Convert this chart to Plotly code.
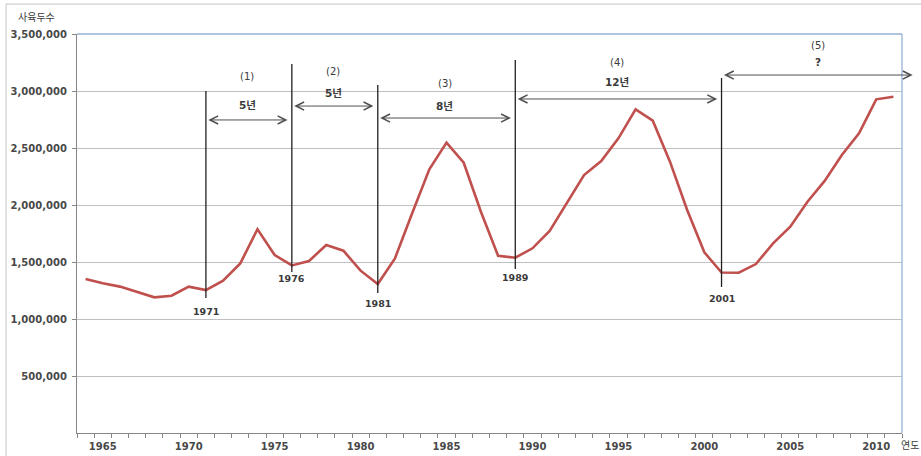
import plotly.graph_objects as go

# ---------------- data ----------------
years = list(range(1964, 2012))
heads = [1351000, 1313000, 1284000, 1239000, 1190000, 1204000, 1284000, 1254000,
         1336000, 1488000, 1787000, 1561000, 1470000, 1509000, 1649000, 1599000,
         1424000, 1307000, 1532000, 1927000, 2313000, 2547000, 2371000, 1941000,
         1555000, 1538000, 1620000, 1772000, 2015000, 2263000, 2386000, 2585000,
         2839000, 2740000, 2380000, 1956000, 1585000, 1408000, 1406000, 1482000,
         1664000, 1810000, 2029000, 2211000, 2439000, 2629000, 2927000, 2950000]

cycle_start = [1971, 1976, 1981, 1989, 2001]
cycle_names = ["(1)", "(2)", "(3)", "(4)", "(5)"]
cycle_lengths = ["5년", "5년", "8년", "12년", "?"]

y_tick_vals = [500000, 1000000, 1500000, 2000000, 2500000, 3000000, 3500000]
y_tick_text = ["500,000", "1,000,000", "1,500,000", "2,000,000", "2,500,000", "3,000,000", "3,500,000"]
x_tick_vals = [1965, 1970, 1975, 1980, 1985, 1990, 1995, 2000, 2005, 2010]
x_tick_text = [str(v) for v in x_tick_vals]

# ---------------- layout helpers (positions, not data) ----------------
marker_top = [3000000, 3237000, 3053000, 3272000, 3114000]
marker_bottom = [1184000, 1412000, 1228000, 1439000, 1281000]
marker_label_y = [1065000, 1351000, 1140000, 1360000, 1180000]
arrow_y = [2746000, 2868000, 2763000, 2930000, 3140000]
name_y = [3123000, 3175000, 3070000, 3254000, 3395000]
len_y = [2877000, 2982000, 2868000, 3079000, 3254000]

X_RANGE = [1963.5, 2011.5]
txt = "#3a3a3a"
tick_txt = "#484848"
font_main = "DejaVu Sans, Noto Sans CJK KR"

fig = go.Figure()
fig.add_trace(go.Scatter(x=years, y=heads, mode="lines",
                         line=dict(color="#C0504D", width=2.6),
                         hoverinfo="x+y", showlegend=False))

shapes = []
annotations = []

for i, yr in enumerate(cycle_start):
    shapes.append(dict(type="line", xref="x", yref="y", x0=yr, x1=yr,
                       y0=marker_bottom[i], y1=marker_top[i],
                       line=dict(color="#202020", width=1.3)))
    annotations.append(dict(x=yr, y=marker_label_y[i], xref="x", yref="y",
                            text=str(yr), showarrow=False,
                            font=dict(family=font_main, size=9.5, color=txt, weight="bold")))
    x0 = yr + 0.05
    x1 = (cycle_start[i + 1] - 0.25) if i + 1 < len(cycle_start) else X_RANGE[1] + 0.62
    annotations.append(dict(x=x1, y=arrow_y[i], ax=x0, ay=arrow_y[i],
                            xref="x", yref="y", axref="x", ayref="y",
                            text="", showarrow=True, arrowside="end+start",
                            arrowhead=5, startarrowhead=5,
                            arrowsize=1.6, startarrowsize=1.6,
                            arrowwidth=1.0, arrowcolor="#505050",
                            standoff=0, startstandoff=0))
    xm = (x0 + x1) / 2
    annotations.append(dict(x=xm, y=name_y[i], xref="x", yref="y",
                            text=cycle_names[i], showarrow=False,
                            font=dict(family=font_main, size=10, color=txt)))
    annotations.append(dict(x=xm, y=len_y[i], xref="x", yref="y",
                            text=cycle_lengths[i], showarrow=False,
                            font=dict(family=font_main, size=10.5, color=txt, weight="bold")))

# axis titles
annotations.append(dict(x=-0.0485, y=1.045, xref="paper", yref="paper",
                        text="사육두수", showarrow=False, xanchor="center", yanchor="middle",
                        font=dict(family="Noto Sans CJK KR", size=10, color=txt)))
annotations.append(dict(x=1.01, y=-0.03, xref="paper", yref="paper",
                        text="연도", showarrow=False, xanchor="center", yanchor="middle",
                        font=dict(family="Noto Sans CJK KR", size=10, color=txt)))

shapes.append(dict(type="line", xref="paper", yref="paper", x0=0, x1=1, y0=1, y1=1,
                   line=dict(color="#95B3D7", width=1.3)))
shapes.append(dict(type="line", xref="paper", yref="paper", x0=1, x1=1, y0=0, y1=1,
                   line=dict(color="#95B3D7", width=1.3)))
shapes.append(dict(type="rect", xref="paper", yref="paper",
                   x0=-0.086, x1=1.2, y0=-0.2, y1=1.075,
                   line=dict(color="#CFCFCF", width=1.2)))

fig.update_layout(
    width=921, height=456,
    margin=dict(l=77, r=19, t=34, b=23, autoexpand=False),
    paper_bgcolor="white", plot_bgcolor="white",
    font=dict(family=font_main, size=11, color=txt),
    shapes=shapes, annotations=annotations,
    xaxis=dict(range=X_RANGE, tickmode="array", tickvals=x_tick_vals, ticktext=x_tick_text,
               ticks="", showgrid=False, zeroline=False, automargin=False,
               showline=True, linecolor="#868686", linewidth=1.2,
               ticklabelstandoff=4,
               tickfont=dict(size=10, color=tick_txt, weight="bold"),
               minor=dict(ticks="outside", tick0=1963.5, dtick=1, ticklen=4,
                          tickcolor="#868686", tickwidth=1, showgrid=False)),
    yaxis=dict(range=[0, 3500000], tickmode="array", tickvals=y_tick_vals, ticktext=y_tick_text,
               ticks="outside", ticklen=4, tickcolor="#868686", automargin=False,
               ticklabelstandoff=3,
               showgrid=True, gridcolor="#C0C0C0", gridwidth=1.2, zeroline=False,
               showline=True, linecolor="#868686", linewidth=1.2,
               tickfont=dict(size=10, color=tick_txt, weight="bold")),
)

fig.write_html("out.html")
